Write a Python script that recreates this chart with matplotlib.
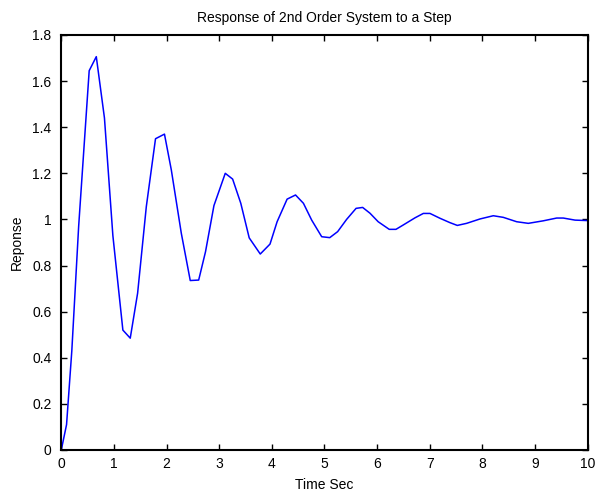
import matplotlib
matplotlib.use("Agg")
from matplotlib import pyplot as plt

# Vertices (non-uniform solver steps)
time_s = [0, 0.10, 0.20, 0.33, 0.53, 0.665, 0.82, 0.98, 1.17, 1.31,
          1.45, 1.615, 1.79, 1.96, 2.09, 2.28, 2.45, 2.61, 2.74, 2.90,
          3.115, 3.255, 3.41, 3.57, 3.78, 3.965, 4.10, 4.29, 4.45, 4.60,
          4.757, 4.947, 5.10, 5.25, 5.42, 5.60, 5.725, 5.864, 6.02, 6.23,
          6.358, 6.497, 6.72, 6.878, 7.004, 7.194, 7.384, 7.523, 7.70, 7.954,
          8.207, 8.397, 8.651, 8.872, 9.157, 9.411, 9.536, 9.76, 10.0]
response = [0, 0.11, 0.43, 0.97, 1.645, 1.706, 1.44, 0.93, 0.52, 0.485,
            0.68, 1.055, 1.35, 1.37, 1.215, 0.94, 0.735, 0.737, 0.86, 1.06,
            1.20, 1.175, 1.07, 0.92, 0.85, 0.893, 0.99, 1.088, 1.106, 1.07,
            0.997, 0.925, 0.921, 0.947, 1.0, 1.048, 1.052, 1.027, 0.99, 0.957,
            0.957, 0.976, 1.007, 1.026, 1.026, 1.005, 0.986, 0.974, 0.983, 1.002,
            1.016, 1.009, 0.990, 0.983, 0.994, 1.006, 1.006, 0.997, 0.995]

x_ticks = list(range(0, 11))
y_ticks = [0, 0.2, 0.4, 0.6, 0.8, 1, 1.2, 1.4, 1.6, 1.8]
y_labels = ["0", "0.2", "0.4", "0.6", "0.8", "1", "1.2", "1.4", "1.6", "1.8"]

plt.rcParams["font.family"] = ["Liberation Sans", "DejaVu Sans"]

fig = plt.figure(figsize=(5.95, 4.92), dpi=100)
ax = fig.add_axes([0.103, 0.0854, 0.8847, 0.8435])

ax.plot(time_s, response, color="#0000ff", linewidth=1.1)

ax.set_xlim(0, 10)
ax.set_ylim(0, 1.8)
ax.set_xticks(x_ticks)
ax.set_yticks(y_ticks)
ax.set_yticklabels(y_labels)
ax.tick_params(direction="in", length=4, width=1, top=True, right=True,
               labelsize=10)
ax.tick_params(axis="y", pad=7)
ax.tick_params(axis="x", pad=5)
for s in ax.spines.values():
    s.set_linewidth(1.5)

ax.set_title("Response of 2nd Order System to a Step", fontsize=10, pad=9)
ax.set_xlabel("Time Sec", fontsize=10, labelpad=5)
ax.set_ylabel("Reponse", fontsize=10, labelpad=6)

plt.savefig("out.png", dpi=100)
